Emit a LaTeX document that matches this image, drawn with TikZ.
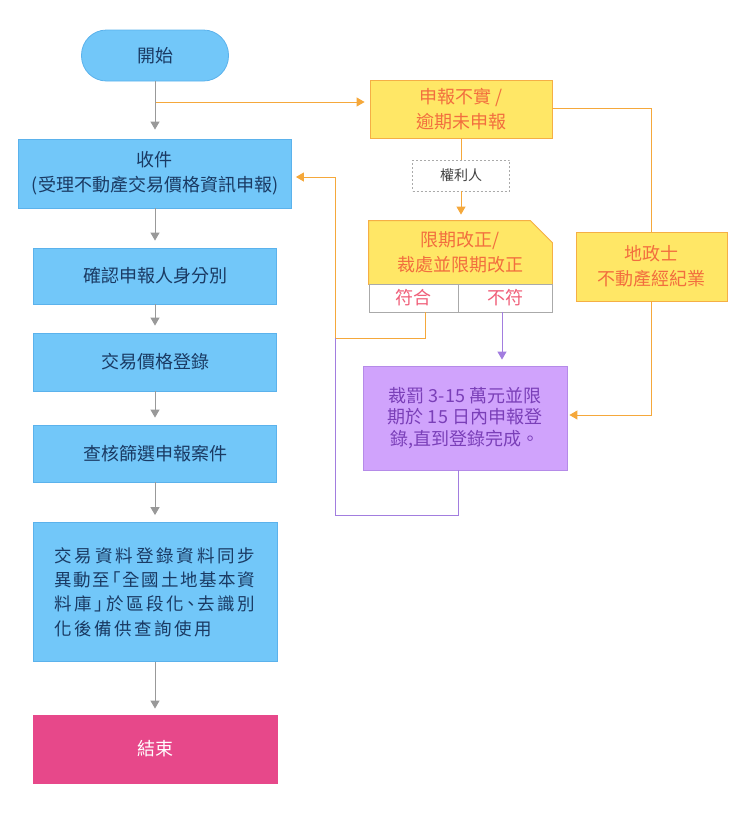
\documentclass[tikz,border=0pt]{standalone}
\usepackage{fontspec}
\setmainfont{Noto Sans CJK TC}
\usetikzlibrary{arrows.meta,calc}
\definecolor{bfill}{HTML}{72C7F9}
\definecolor{bdraw}{HTML}{5BB2EC}
\definecolor{btext}{HTML}{1A3A63}
\definecolor{yfill}{HTML}{FFE766}
\definecolor{ydraw}{HTML}{F5AF45}
\definecolor{ytext}{HTML}{F26E3E}
\definecolor{oline}{HTML}{F5A83B}
\definecolor{gline}{HTML}{999999}
\definecolor{pfill}{HTML}{D0A3FC}
\definecolor{pdraw}{HTML}{B58BE8}
\definecolor{ptext}{HTML}{7A3FB8}
\definecolor{pline}{HTML}{A27DDF}
\definecolor{kfill}{HTML}{E7488A}
\definecolor{ctext}{HTML}{F0607A}
\definecolor{cdraw}{HTML}{AAAAAA}
% spread a run of characters evenly over a box
\def\spreadchars#1#2\endspread{#1\if\relax\detokenize{#2}\relax\else\hfil\spreadchars#2\endspread\fi}
\newcommand\spreadline[2]{\hbox to #1{\spreadchars#2\endspread}}
\newcommand\hwL{{\addfontfeature{RawFeature=+halt}「}}
\newcommand\hwR{{\addfontfeature{RawFeature=+halt}」}}
\newcommand\hwD{{\addfontfeature{RawFeature=+halt}、}}
\tikzset{
  box/.style={draw, line width=0.8pt, align=center, inner sep=0pt,
    font=\fontsize{18}{25}\selectfont},
  bluebox/.style={box, fill=bfill, draw=bdraw, text=btext},
  yelbox/.style={box, fill=yfill, draw=ydraw, text=ytext},
  cellbox/.style={box, fill=white, draw=cdraw, text=ctext},
  tip/.style={-{Triangle[width=9pt,length=8pt]}},
  gline/.style={draw=gline, line width=1pt},
  oline/.style={draw=oline, line width=1pt},
  pline/.style={draw=pline, line width=1pt},
}
\begin{document}
\begin{tikzpicture}[x=1pt,y=-1pt]
\useasboundingbox (0,0) rectangle (740,814);
% left column
\node[bluebox, rounded corners=25pt, minimum width=147pt, minimum height=51pt] (start) at (155,55.5) {開始};
\node[bluebox, minimum width=273pt, minimum height=69pt] (recv) at (155,173.5) {收件\\(受理不動產交易價格資訊申報)};
\node[bluebox, minimum width=243pt, minimum height=56pt] (b1) at (155,276) {確認申報人身分別};
\node[bluebox, minimum width=243pt, minimum height=58pt] (b2) at (155,362) {交易價格登錄};
\node[bluebox, minimum width=243pt, minimum height=57pt] (b3) at (155,453.5) {查核篩選申報案件};
\node[bluebox, minimum width=244pt, minimum height=139pt, align=left,
  font=\fontsize{17.5}{24.3}\selectfont] (b4) at (155,592)
  {\spreadline{201pt}{交易資料登錄資料同步}\\
   \spreadline{201pt}{異動至\hwL 全國土地基本資}\\
   \spreadline{201pt}{料庫\hwR 於區段化\hwD 去識別}\\
   \spreadline{158pt}{化後備供查詢使用}};
\node[box, fill=kfill, draw=kfill, text=white, minimum width=244pt, minimum height=68pt] (end) at (155,749) {結束};
% right side
\node[yelbox, minimum width=182pt, minimum height=58pt] (rep) at (461,109) {申報不實 /\\逾期未申報};
\node[draw=cdraw, dash pattern=on 2pt off 2pt, line width=0.6pt, fill=white, text=black!75,
  font=\fontsize{14}{16}\selectfont, minimum width=97pt, minimum height=31pt, inner sep=0pt] (right) at (461,175.5) {權利人};
\node[box, draw=none, text=ytext, minimum width=183pt, minimum height=63pt] (corr) at (460.5,252.5) {};
\fill[yfill, draw=ydraw, line width=0.8pt] (corr.north west) -- ([xshift=-22pt]corr.north east)
  -- ([yshift=-22pt]corr.north east) -- (corr.south east) -- (corr.south west) -- cycle;
\node[text=ytext, align=center, font=\fontsize{18}{25}\selectfont] (corrtext) at (corr.center) {限期改正/\\裁處並限期改正};
\node[cellbox, minimum width=89pt, minimum height=28pt] (ok) at (413.5,298) {符合};
\node[cellbox, minimum width=94pt, minimum height=28pt] (no) at (505,298) {不符};
\node[yelbox, minimum width=151pt, minimum height=69pt] (agent) at (651.5,266.5) {地政士\\不動產經紀業};
\node[box, fill=pfill, draw=pdraw, text=ptext, minimum width=204pt, minimum height=104pt,
  font=\fontsize{18}{21.5}\selectfont] (pen) at (465,418)
  {裁罰 3-15 萬元並限\\期於 15 日內申報登\\錄,直到登錄完成。};
% gray connectors
\draw[gline, tip, shorten >=9pt] (start.south) -- (recv.north);
\draw[gline, tip, shorten >=7pt] (recv.south) -- (b1.north);
\draw[gline, tip, shorten >=7pt] (b1.south) -- (b2.north);
\draw[gline, tip, shorten >=7pt] (b2.south) -- (b3.north);
\draw[gline, tip, shorten >=7pt] (b3.south) -- (b4.north);
\draw[gline, tip, shorten >=6pt] (b4.south) -- (end.north);
% orange connectors
\coordinate (br) at (156,102);
\draw[oline, tip, shorten >=5pt] (br) -- (br -| rep.west);
\draw[oline] (rep.south) -- (right.north);
\draw[oline, tip, shorten >=6pt] (right.south) -- (right.south |- corr.north);
\draw[oline] ([yshift=1pt]rep.east) -| (agent.north);
\draw[oline, tip, shorten >=2pt] (agent.south) |- ([yshift=3pt]pen.east);
\coordinate (j1) at (335,338);
\coordinate (jb) at (335,515);
\draw[oline, tip, shorten >=4pt] ([xshift=12pt]ok.south) |- (j1) |- ([yshift=-3.5pt]recv.east);
% purple connectors
\draw[pline, tip, shorten >=6pt] ([xshift=-3pt]no.south) -- ([xshift=-3pt]no.south |- pen.north);
\draw[pline] ([xshift=-7pt]pen.south) |- (jb) -- (j1);
\end{tikzpicture}
\end{document}
